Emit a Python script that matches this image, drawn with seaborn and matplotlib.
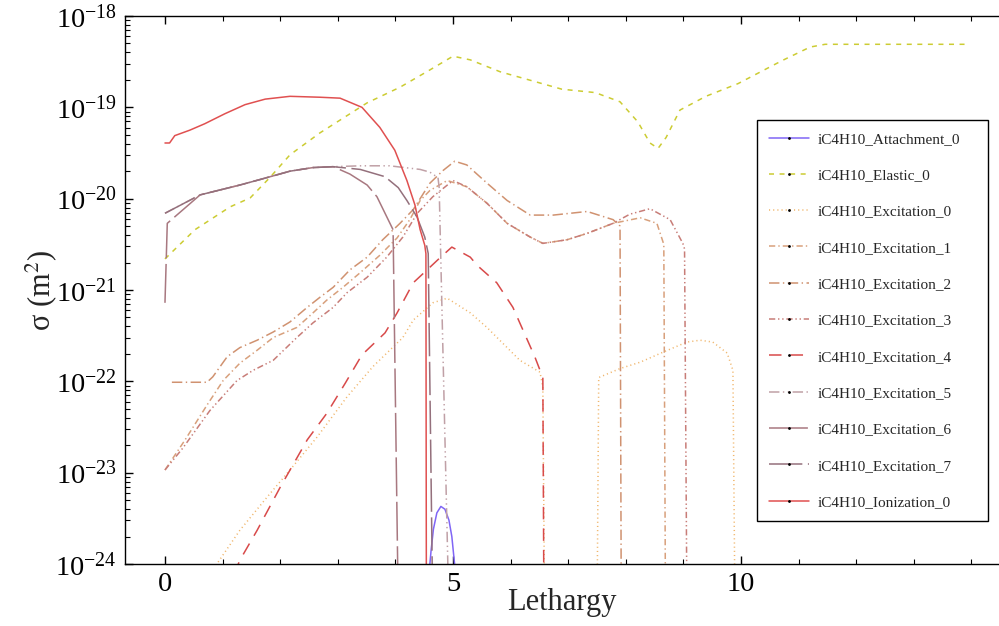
import numpy as np
import pandas as pd
import matplotlib
matplotlib.use("Agg")
import matplotlib.pyplot as plt
import seaborn as sns
from matplotlib.lines import Line2D
from matplotlib.ticker import MultipleLocator, NullFormatter, FixedLocator, LogFormatterSciNotation

# ---------------- data ----------------
att_x = [4.57, 4.62, 4.66, 4.72, 4.79, 4.86, 4.93, 4.98, 5.02, 5.06]
att_y = [6.31e-25, 1.41e-24, 2.40e-24, 3.63e-24, 4.27e-24, 3.98e-24, 3.02e-24, 2.00e-24, 1.12e-24, 6.31e-25]

ela_x = [0, 0.52, 1.13, 1.48, 1.82, 2.17, 2.69, 3.51, 4.08, 4.6, 5.0, 5.3, 5.82, 6.89, 7.47, 7.9,
         8.21, 8.42, 8.56, 8.7, 8.94, 9.39, 9.95, 10.71, 11.2, 11.46, 13.94]
ela_y = [2.19e-21, 4.57e-21, 8.13e-21, 1.02e-20, 1.70e-20, 3.02e-20, 5.25e-20, 1.12e-19, 1.66e-19,
         2.57e-19, 3.63e-19, 3.31e-19, 2.45e-19, 1.58e-19, 1.45e-19, 1.15e-19, 6.92e-20, 4.07e-20,
         3.55e-20, 4.68e-20, 9.33e-20, 1.32e-19, 1.82e-19, 3.24e-19, 4.57e-19, 4.90e-19, 4.90e-19]

ex0_x = [0.8, 0.9, 1.30, 1.77, 2.17, 2.64, 3.16, 3.61, 4.13, 4.31, 4.65, 4.90, 5.30, 5.59, 6.16,
         6.51, 6.56, 6.66, 7.44, 7.53, 7.90, 8.25, 8.65, 9.06, 9.29, 9.51, 9.76, 9.86, 9.97]
ex0_y = [8.1e-25, 1.0e-24, 2.34e-24, 5.37e-24, 1.07e-23, 2.45e-23, 6.76e-23, 1.45e-22, 3.02e-22,
         4.68e-22, 7.24e-22, 8.13e-22, 5.62e-22, 3.89e-22, 1.70e-22, 1.26e-22, 8.71e-23, 1e-30,
         1e-30, 1.10e-22, 1.38e-22, 1.62e-22, 2.09e-22, 2.69e-22, 2.82e-22, 2.69e-22, 2.04e-22,
         1.32e-22, 1e-30]

ex1_x = [0, 0.35, 0.73, 1.01, 1.30, 1.60, 1.88, 2.29, 2.57, 2.81, 3.09, 3.39, 3.73, 4.03, 4.25,
         4.43, 4.60, 4.90, 5.24, 5.59, 5.94, 6.34, 6.56, 6.98, 7.33, 7.78, 8.25, 8.54, 8.66, 8.73]
ex1_y = [1.07e-23, 2.29e-23, 5.50e-23, 1.02e-22, 1.58e-22, 2.19e-22, 3.02e-22, 3.89e-22, 5.62e-22,
         7.76e-22, 1.07e-21, 1.55e-21, 2.40e-21, 3.72e-21, 5.89e-21, 9.55e-21, 1.23e-20, 1.58e-20,
         1.35e-20, 8.91e-21, 5.37e-21, 3.80e-21, 3.24e-21, 3.55e-21, 4.17e-21, 5.37e-21, 6.17e-21,
         5.37e-21, 3.16e-21, 1e-30]

ex2_x = [0.12, 0.73, 0.83, 1.08, 1.30, 1.60, 1.88, 2.17, 2.47, 2.69, 2.92, 3.21, 3.51, 3.78, 4.08,
         4.31, 4.60, 4.83, 5.03, 5.24, 5.59, 5.94, 6.34, 6.74, 7.33, 7.78, 7.90, 7.95]
ex2_y = [9.77e-23, 9.77e-23, 1.12e-22, 1.86e-22, 2.34e-22, 2.82e-22, 3.47e-22, 4.47e-22, 6.46e-22,
         8.32e-22, 1.07e-21, 1.66e-21, 2.29e-21, 3.55e-21, 5.37e-21, 7.59e-21, 1.48e-20, 2.04e-20,
         2.57e-20, 2.34e-20, 1.48e-20, 9.55e-21, 6.61e-21, 6.61e-21, 7.24e-21, 5.89e-21, 5.01e-21,
         1e-30]

ex3_x = [0, 0.31, 0.78, 1.25, 1.53, 1.88, 2.29, 2.57, 2.92, 3.16, 3.51, 3.85, 4.13, 4.38, 4.65,
         5.00, 5.24, 5.59, 5.94, 6.34, 6.56, 6.98, 7.33, 7.78, 8.07, 8.42, 8.77, 8.99, 9.02, 9.12]
ex3_y = [1.07e-23, 1.86e-23, 4.79e-23, 1.02e-22, 1.32e-22, 1.70e-22, 3.02e-22, 4.37e-22, 6.46e-22,
         9.33e-22, 1.38e-21, 2.29e-21, 3.80e-21, 6.92e-21, 1.05e-20, 1.58e-20, 1.35e-20, 8.91e-21,
         5.37e-21, 3.80e-21, 3.24e-21, 3.55e-21, 4.17e-21, 5.37e-21, 6.76e-21, 7.76e-21, 5.89e-21,
         3.24e-21, 2.82e-21, 1e-30]

ex4_x = [1.2, 1.30, 1.60, 2.00, 2.47, 2.81, 3.13, 3.42, 3.82, 4.03, 4.31, 4.55, 4.77, 4.98, 5.30,
         5.42, 5.76, 6.04, 6.42, 6.56, 6.62]
ex4_y = [7.8e-25, 1.10e-24, 2.34e-24, 6.92e-24, 2.29e-23, 4.47e-23, 9.55e-23, 1.95e-22, 3.39e-22,
         5.62e-22, 1.20e-21, 1.66e-21, 2.24e-21, 2.95e-21, 2.29e-21, 1.86e-21, 1.20e-21, 6.46e-22,
         1.86e-22, 1.10e-22, 1e-30]

ex5_x = [0, 0.61, 1.30, 1.65, 2.17, 2.57, 2.92, 3.4, 3.9, 4.43, 4.60, 4.74, 4.76, 5.13]
ex5_y = [6.92e-21, 1.10e-20, 1.41e-20, 1.62e-20, 2.00e-20, 2.19e-20, 2.24e-20, 2.29e-20, 2.29e-20,
         2.09e-20, 1.95e-20, 1.70e-20, 1.32e-20, 1e-30]

ex6_x = [0, 0.04, 0.61, 1.30, 1.65, 2.17, 2.57, 2.92, 3.21, 3.51, 3.68, 3.96, 4.17]
ex6_y = [7.24e-22, 5.37e-21, 1.10e-20, 1.41e-20, 1.62e-20, 2.00e-20, 2.19e-20, 2.24e-20, 1.86e-20,
         1.41e-20, 1.05e-20, 4.57e-21, 1e-30]

ex7_x = [0, 0.61, 1.30, 1.65, 2.17, 2.57, 2.92, 3.39, 3.82, 4.05, 4.2, 4.375, 4.51, 4.57, 4.76]
ex7_y = [6.92e-21, 1.10e-20, 1.41e-20, 1.62e-20, 2.00e-20, 2.19e-20, 2.24e-20, 2.09e-20, 1.74e-20,
         1.32e-20, 9.55e-21, 6.31e-21, 3.80e-21, 2.51e-21, 1e-30]

ion_x = [0, 0.08, 0.17, 0.43, 0.69, 1.04, 1.39, 1.74, 2.17, 2.69, 3.04, 3.42, 3.73, 3.99, 4.2, 4.34,
         4.43, 4.51, 4.53, 4.55]
ion_y = [4.07e-20, 4.07e-20, 4.90e-20, 5.62e-20, 6.61e-20, 8.51e-20, 1.07e-19, 1.23e-19, 1.32e-19,
         1.29e-19, 1.26e-19, 1.00e-19, 6.03e-20, 3.39e-20, 1.58e-20, 8.51e-21, 4.57e-21, 3.09e-21,
         2.5e-21, 1e-30]

labels = ["iC4H10_Attachment_0", "iC4H10_Elastic_0", "iC4H10_Excitation_0", "iC4H10_Excitation_1",
          "iC4H10_Excitation_2", "iC4H10_Excitation_3", "iC4H10_Excitation_4", "iC4H10_Excitation_5",
          "iC4H10_Excitation_6", "iC4H10_Excitation_7", "iC4H10_Ionization_0"]
x_ticks = [0, 5, 10]
y_ticks = [1e-24, 1e-23, 1e-22, 1e-21, 1e-20, 1e-19, 1e-18]

xs = [att_x, ela_x, ex0_x, ex1_x, ex2_x, ex3_x, ex4_x, ex5_x, ex6_x, ex7_x, ion_x]
ys = [att_y, ela_y, ex0_y, ex1_y, ex2_y, ex3_y, ex4_y, ex5_y, ex6_y, ex7_y, ion_y]

colors = ["#8066f5", "#cccc33", "#f0b56a", "#d8a07c", "#d09270", "#c87d78", "#d84a4a",
          "#c0a0a6", "#a87880", "#94707c", "#e05050"]
styles = ["-", (0, (3.6, 4.0)), (0, (0.8, 2.2)), (0, (4.5, 2.2, 1.0, 2.2)),
          (0, (7.5, 2.5, 1.0, 2.5)), (0, (4.5, 2.0, 1.0, 2.0, 1.0, 2.0)), (0, (9.0, 6.5)),
          (0, (7.5, 2.5, 1.0, 2.5, 1.0, 2.5)), (0, (28, 4)), (0, (24, 4)), "-"]

# ---------------- plotting ----------------
sns.set_theme(style="ticks")
plt.rcParams["font.family"] = ["Liberation Serif", "DejaVu Serif"]
plt.rcParams["mathtext.fontset"] = "stix"
plt.rcParams["lines.scale_dashes"] = False

fig = plt.figure(figsize=(9.99, 6.26), dpi=100)
ax = fig.add_axes([125 / 999, 1 - 564 / 626, (999 - 125) / 999, (564 - 16) / 626])
ax.set_yscale("log")

for x, y, c, ls, lab in zip(xs, ys, colors, styles, labels):
    df = pd.DataFrame({"x": x, "y": y})
    sns.lineplot(data=df, x="x", y="y", ax=ax, color=c, linestyle=ls, linewidth=1.1,
                 sort=False, estimator=None, legend=False)

ax.set_xlim(-0.694, (999 - 165) / 57.6)
ax.set_ylim(1e-24, 1e-18)

ax.xaxis.set_major_locator(FixedLocator(x_ticks))
ax.xaxis.set_minor_locator(MultipleLocator(1))
ax.yaxis.set_major_locator(FixedLocator(y_ticks))
ax.yaxis.set_major_formatter(LogFormatterSciNotation())
minor_y = [m * t for t in y_ticks[:-1] for m in range(2, 10)]
ax.yaxis.set_minor_locator(FixedLocator(minor_y))
ax.yaxis.set_minor_formatter(NullFormatter())

ax.tick_params(which="both", direction="in", top=True, right=False, colors="black")
ax.tick_params(which="major", length=6, width=1.0, labelsize=20.5, pad=6)
ax.tick_params(which="minor", length=3.5, width=0.8)

for s in ["left", "bottom", "top"]:
    ax.spines[s].set_color("black")
    ax.spines[s].set_linewidth(1.0)
ax.spines["right"].set_visible(False)

ax.set_xlabel("Lethargy", fontsize=22, labelpad=-7)
ax.set_ylabel(r"σ (m$^2$)", fontsize=22, labelpad=-3)

handles = [Line2D([], [], color=c, linestyle=ls, linewidth=1.1, marker=".", markersize=2,
                  markerfacecolor="black", markeredgecolor="black")
           for c, ls in zip(colors, styles)]
leg = ax.legend(handles, labels, loc="upper left",
                bbox_to_anchor=(757 / 999, 1 - 518 / 626, 231 / 999, (518 - 120) / 626),
                bbox_transform=fig.transFigure, borderaxespad=0, mode="expand",
                fontsize=11, frameon=True, fancybox=False, edgecolor="black", framealpha=1,
                numpoints=1, handlelength=2.6, handletextpad=0.55, labelspacing=1.48,
                borderpad=0.8)
leg.get_frame().set_linewidth(1.0)

fig.savefig("out.png", dpi=100)
